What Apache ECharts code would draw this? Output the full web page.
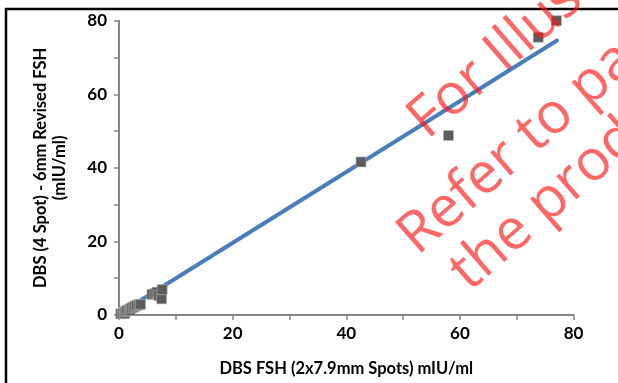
<!DOCTYPE html>
<html>
<head>
<meta charset="utf-8">
<script src="https://cdn.jsdelivr.net/npm/echarts@6/dist/echarts.min.js"></script>
<style>html,body{margin:0;padding:0;background:#fff;}#c{width:618px;height:383px;}</style>
</head>
<body>
<div id="c"></div>
<script>
// Scatter data
const xVals = [0.3, 0.6, 0.9, 1.0, 1.1, 1.3, 1.6, 1.9, 2.0, 2.2, 2.5, 2.8, 3.1, 3.5, 3.8, 5.8, 6.3, 6.7, 7.0, 7.5, 7.6, 42.6, 58.0, 73.8, 77.0];
const yVals = [0.3, 0.4, 0.7, 0.4, 0.9, 1.1, 1.3, 1.6, 1.2, 1.9, 2.1, 2.4, 2.6, 2.8, 2.9, 5.6, 5.8, 6.2, 5.3, 4.4, 6.9, 41.6, 48.8, 75.5, 80.0];
// Trend line end points
const trendX = [0.5, 77.1];
const trendY = [0.8, 74.6];
// Axis settings
const axisMin = 0, axisMax = 80, tickStep = 10, labelStep = 20;
const xTitle = 'DBS FSH (2x7.9mm Spots) mIU/ml';
const yTitle = 'DBS (4 Spot) - 6mm Revised FSH\n(mIU/ml)';
const watermark = ['For Illustration Only', 'Refer to package insert', 'the product insert'];

const chart = echarts.init(document.getElementById('c'));
const font = 'Lato, "Open Sans", sans-serif';
function axis(name, isY) {
  return {
    type: 'value', min: axisMin, max: axisMax, interval: tickStep,
    name: name, nameLocation: 'middle', nameGap: isY ? 50 : 44,
    nameRotate: isY ? 90 : 0,
    nameTextStyle: {fontFamily: font, fontWeight: 'bold', fontSize: 16.5, color: '#000', lineHeight: 19},
    axisLine: {show: true, lineStyle: {color: '#868686', width: 2}},
    axisTick: {show: true, length: 5, lineStyle: {color: '#868686', width: 1.5}},
    splitLine: {show: false},
    axisLabel: {
      fontFamily: font, fontWeight: 'bold', fontSize: 17, color: '#000',
      margin: isY ? 12 : 10,
      formatter: v => (v % labelStep === 0 ? String(v) : '')
    }
  };
}
const wmSize = 57;
const ang = 41 * Math.PI / 180;
const wmBase = [[428, 141], [418, 257], [470, 293]];
chart.setOption({
  animation: false,
  grid: {left: 119, right: 44.5, top: 20.7, bottom: 67},
  xAxis: axis(xTitle, false),
  yAxis: axis(yTitle, true),
  series: [
    {
      type: 'line', data: trendX.map((x, i) => [x, trendY[i]]),
      showSymbol: false, symbol: 'none',
      lineStyle: {color: '#4a7ebb', width: 4, cap: 'round'}, z: 2
    },
    {
      type: 'scatter', data: xVals.map((x, i) => [x, yVals[i]]),
      symbol: 'rect', symbolSize: 10,
      itemStyle: {color: '#5c5c5c', borderColor: 'rgba(180,180,180,0.6)', borderWidth: 1, opacity: 1}, z: 3
    }
  ],
  graphic: [
    {type: 'rect', shape: {x: 6, y: 9, width: 700, height: 500}, style: {fill: 'none', stroke: '#000', lineWidth: 2.5}, z: 100, silent: true}
  ].concat(watermark.map((t, i) => ({
    type: 'text',
    x: wmBase[i][0] - 0.3 * wmSize * Math.sin(ang),
    y: wmBase[i][1] - 0.3 * wmSize * Math.cos(ang),
    rotation: ang,
    style: {text: t, fontFamily: '"Open Sans", sans-serif', fontSize: wmSize, fill: 'rgba(255,20,20,0.65)', verticalAlign: 'middle', align: 'left'},
    z: 110, silent: true
  })))
});
</script>
</body>
</html>
